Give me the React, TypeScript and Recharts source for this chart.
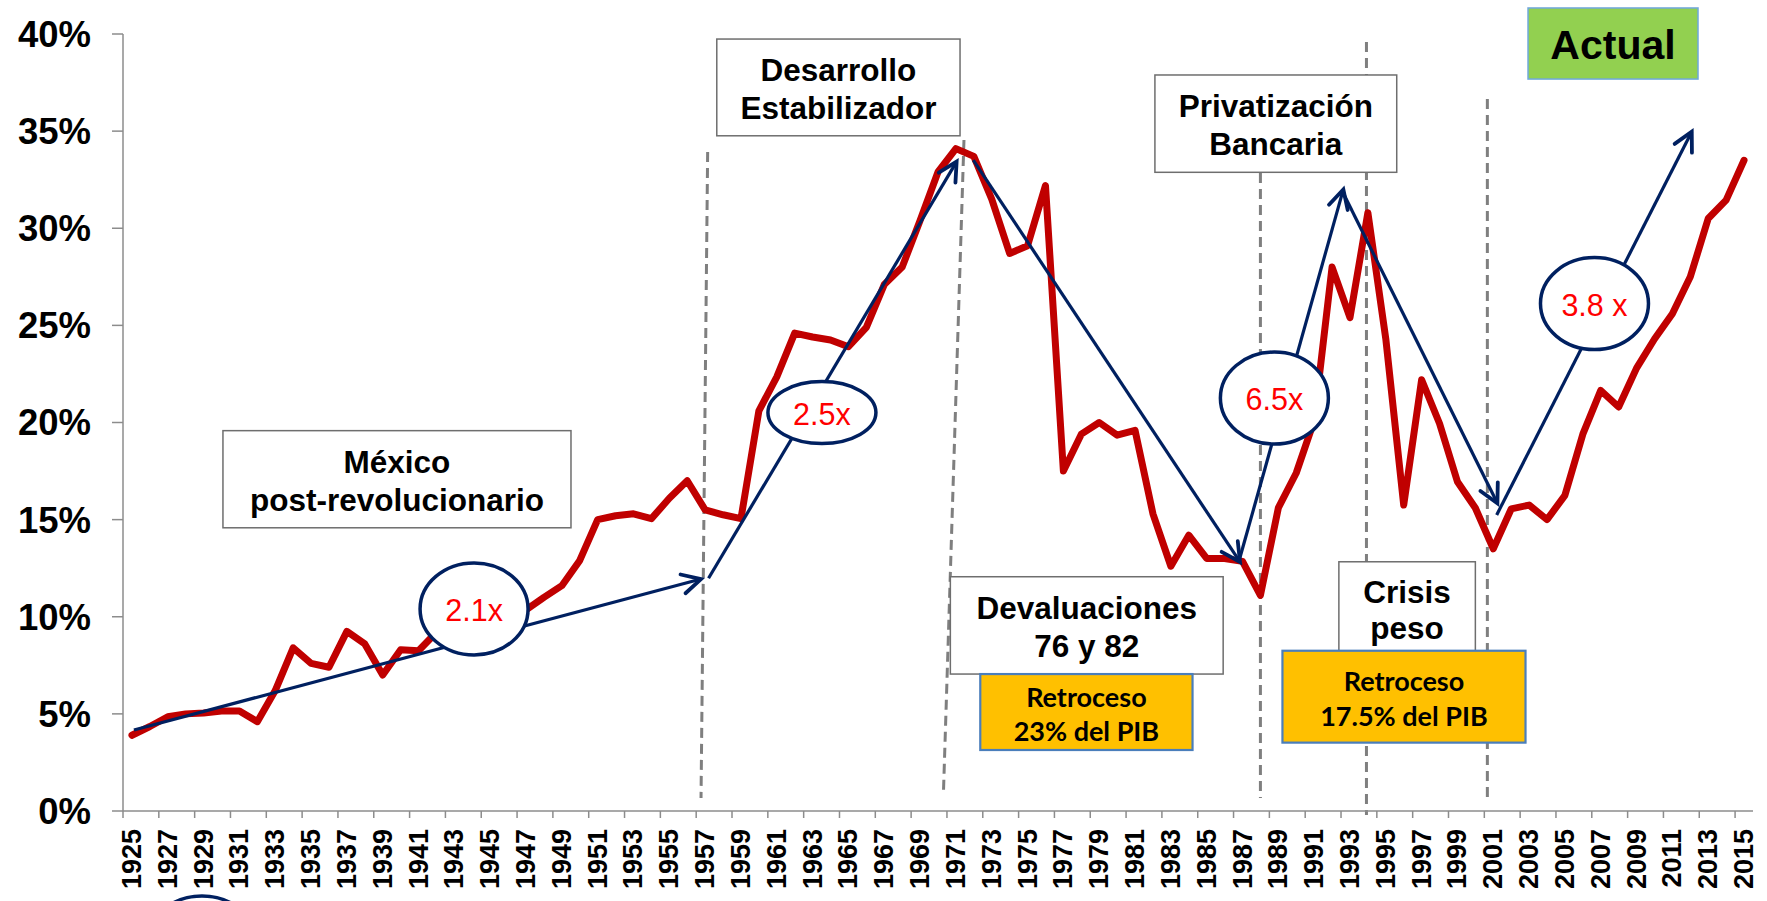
import React from 'react';
import {
  LineChart,
  Line,
  XAxis,
  YAxis,
  ReferenceLine,
  ReferenceArea,
  ReferenceDot,
} from 'recharts';

// ---------- data ----------
const YEARS = [
  1925, 1926, 1927, 1928, 1929, 1930, 1931, 1932, 1933, 1934, 1935, 1936, 1937, 1938, 1939,
  1940, 1941, 1942, 1943, 1944, 1945, 1946, 1947, 1948, 1949, 1950, 1951, 1952, 1953, 1954,
  1955, 1956, 1957, 1958, 1959, 1960, 1961, 1962, 1963, 1964, 1965, 1966, 1967, 1968, 1969,
  1970, 1971, 1972, 1973, 1974, 1975, 1976, 1977, 1978, 1979, 1980, 1981, 1982, 1983, 1984,
  1985, 1986, 1987, 1988, 1989, 1990, 1991, 1992, 1993, 1994, 1995, 1996, 1997, 1998, 1999,
  2000, 2001, 2002, 2003, 2004, 2005, 2006, 2007, 2008, 2009, 2010, 2011, 2012, 2013, 2014,
  2015,
];

// credit as % of GDP
const CREDIT_PCT = [
  3.9, 4.35, 4.85, 5.0, 5.05, 5.15, 5.15, 4.6, 6.2, 8.4, 7.6, 7.4, 9.25, 8.6, 7.0,
  8.3, 8.25, 9.2, 9.5, 9.8, 10.0, 10.2, 10.35, 11.0, 11.6, 12.9, 15.0, 15.2, 15.3, 15.05,
  16.1, 17.0, 15.5, 15.25, 15.05, 20.6, 22.35, 24.6, 24.4, 24.25, 23.9, 24.9, 27.1, 28.0, 30.4,
  32.9, 34.1, 33.7, 31.5, 28.7, 29.1, 32.2, 17.5, 19.4, 20.0, 19.35, 19.6, 15.3, 12.6, 14.2,
  13.0, 13.0, 12.85, 11.1, 15.6, 17.4, 20.1, 28.0, 25.4, 30.8, 24.3, 15.75, 22.2, 19.95, 16.95,
  15.6, 13.5, 15.55, 15.75, 15.0, 16.25, 19.4, 21.65, 20.8, 22.8, 24.3, 25.6, 27.5, 30.5, 31.45,
  33.5,
];

const X_TICKS = [
  1925, 1927, 1929, 1931, 1933, 1935, 1937, 1939, 1941, 1943, 1945, 1947, 1949, 1951, 1953,
  1955, 1957, 1959, 1961, 1963, 1965, 1967, 1969, 1971, 1973, 1975, 1977, 1979, 1981, 1983,
  1985, 1987, 1989, 1991, 1993, 1995, 1997, 1999, 2001, 2003, 2005, 2007, 2009, 2011, 2013,
  2015,
];
const Y_TICKS = [0, 5, 10, 15, 20, 25, 30, 35, 40];

const chartData = YEARS.map((year, i) => ({ year, value: CREDIT_PCT[i] }));

// ---------- annotations (in data coordinates) ----------
const PERIOD_LINES = [
  { x1: 1957.14, y1: 33.93, x2: 1956.77, y2: 0.67 },
  { x1: 1971.45, y1: 34.54, x2: 1970.3, y2: 0.82 },
  { x1: 1988.0, y1: 32.84, x2: 1988.0, y2: 0.67 },
  { x1: 1993.92, y1: 39.59, x2: 1993.92, y2: -0.2 },
  { x1: 2000.67, y1: 36.65, x2: 2000.67, y2: 0.57 },
];

const TREND_ARROWS = [
  { x1: 1925.11, y1: 4.17, x2: 1956.77, y2: 11.94 },
  { x1: 1957.19, y1: 11.98, x2: 1971.04, y2: 33.43 },
  { x1: 1971.97, y1: 33.51, x2: 1986.86, y2: 12.82 },
  { x1: 1986.82, y1: 12.92, x2: 1992.63, y2: 32.0 },
  { x1: 1992.63, y1: 31.8, x2: 2001.23, y2: 15.84 },
  { x1: 2001.19, y1: 15.24, x2: 2012.08, y2: 34.97 },
];

const BUBBLES = [
  { x: 1944.1, y: 10.4, label: '2.1x', rx: 54, ry: 46 },
  { x: 1963.52, y: 20.51, label: '2.5x', rx: 54, ry: 31 },
  { x: 1988.78, y: 21.26, label: '6.5x', rx: 54, ry: 46 },
  { x: 2006.65, y: 26.12, label: '3.8 x', rx: 54, ry: 46 },
  { x: 1928.91, y: -6.74, label: '', rx: 54, ry: 46 },
];

const BOXES = [
  { x1: 1930.08, x2: 1949.51, y1: 14.58, y2: 19.58, lines: ['México', 'post-revolucionario'], kind: 'white', gap: 37.6 },
  { x1: 1957.65, x2: 1971.23, y1: 34.76, y2: 39.74, lines: ['Desarrollo', 'Estabilizador'], kind: 'white', gap: 37.3 },
  { x1: 1982.11, x2: 1995.61, y1: 32.88, y2: 37.89, lines: ['Privatización', 'Bancaria'], kind: 'white', gap: 38.3 },
  { x1: 1970.69, x2: 1985.92, y1: 7.05, y2: 12.06, lines: ['Devaluaciones', '76 y 82'], kind: 'white', gap: 37.7 },
  { x1: 1972.36, x2: 1984.21, y1: 3.14, y2: 7.05, lines: ['Retroceso', '23% del PIB'], kind: 'orange', gap: 34 },
  { x1: 1992.38, x2: 2000.0, y1: 8.0, y2: 12.83, lines: ['Crisis', 'peso'], kind: 'white', gap: 36.6 },
  { x1: 1989.23, x2: 2002.8, y1: 3.52, y2: 8.25, lines: ['Retroceso', '17.5% del PIB'], kind: 'orange', gap: 35 },
  { x1: 2002.94, x2: 2012.43, y1: 37.68, y2: 41.34, lines: ['Actual'], kind: 'green', gap: 0 },
];

// ---------- styles / layout ----------
const WIDTH = 1767;
const HEIGHT = 901;
const MARGIN = { top: 34, right: 14, bottom: 0, left: 0 };
const Y_AXIS_W = 123;
const X_AXIS_H = 90;
const AXIS_Y = HEIGHT - MARGIN.bottom - X_AXIS_H;
const PLOT_W = WIDTH - MARGIN.left - MARGIN.right - Y_AXIS_W;
const HALF_BAND = PLOT_W / YEARS.length / 2;

const RED = '#C00000';
const NAVY = '#002060';
const AXIS_GRAY = '#8c8c8c';
const FONT = '"Liberation Sans", Arial, sans-serif';

const BOX_STYLES: Record<string, any> = {
  white: { fill: '#ffffff', stroke: '#6e6e6e', sw: 1.5, font: FONT, size: 31.5, weight: 'bold', color: '#000' },
  orange: { fill: '#FFC000', stroke: '#4A7EBB', sw: 2.2, font: 'Lato, "Liberation Sans", sans-serif', size: 27, weight: 'bold', color: '#000' },
  green: { fill: '#92D050', stroke: '#6FA8DC', sw: 1.5, font: FONT, size: 41, weight: 'bold', color: '#000' },
};

const YearTick = (props: any) => {
  const { x, payload } = props;
  const ty = AXIS_Y + 18;
  return (
    <g>
      <line x1={x - HALF_BAND} x2={x - HALF_BAND} y1={AXIS_Y} y2={AXIS_Y + 7} stroke={AXIS_GRAY} strokeWidth={1.5} />
      <text
        x={x}
        y={ty}
        transform={`rotate(-90 ${x} ${ty})`}
        textAnchor="end"
        dominantBaseline="central"
        fontFamily={FONT}
        fontWeight="bold"
        fontSize={27}
        fill="#000"
      >
        {payload.value}
      </text>
    </g>
  );
};

const ArrowShape = (p: any) => {
  const { x1, y1, x2, y2 } = p;
  if ([x1, y1, x2, y2].some((v) => typeof v !== 'number' || isNaN(v))) return <g />;
  const ang = Math.atan2(y2 - y1, x2 - x1);
  const L = 21;
  const a = 0.48;
  const w1x = x2 - L * Math.cos(ang - a);
  const w1y = y2 - L * Math.sin(ang - a);
  const w2x = x2 - L * Math.cos(ang + a);
  const w2y = y2 - L * Math.sin(ang + a);
  return (
    <g>
      <line x1={x1} y1={y1} x2={x2} y2={y2} stroke={NAVY} strokeWidth={3.2} />
      <polyline
        points={`${w1x},${w1y} ${x2},${y2} ${w2x},${w2y}`}
        fill="none"
        stroke={NAVY}
        strokeWidth={3.8}
        strokeLinecap="round"
        strokeLinejoin="miter"
      />
    </g>
  );
};

const DashShape = (p: any) => {
  const { x1, y1, x2, y2 } = p;
  return <line x1={x1} y1={y1} x2={x2} y2={y2} stroke="#7f7f7f" strokeWidth={3} strokeDasharray="10 6" />;
};

const makeBubble = (b: any) => (p: any) => {
  const { cx, cy } = p;
  return (
    <g>
      <ellipse cx={cx} cy={cy} rx={b.rx} ry={b.ry} fill="#ffffff" stroke={NAVY} strokeWidth={3.5} />
      {b.label ? (
        <text
          x={cx}
          y={cy + 1}
          textAnchor="middle"
          dominantBaseline="central"
          fontFamily={FONT}
          fontSize={30.5}
          fill="#FF0000"
        >
          {b.label}
        </text>
      ) : null}
    </g>
  );
};

const makeBox = (b: any) => (p: any) => {
  const { x, y, width, height } = p;
  const s = BOX_STYLES[b.kind];
  const cx = x + width / 2;
  const cy = y + height / 2 + 1.5;
  const n = b.lines.length;
  return (
    <g>
      <rect x={x} y={y} width={width} height={height} fill={s.fill} stroke={s.stroke} strokeWidth={s.sw} />
      {b.lines.map((t: string, i: number) => (
        <text
          key={i}
          x={cx}
          y={cy + (i - (n - 1) / 2) * b.gap}
          textAnchor="middle"
          dominantBaseline="central"
          fontFamily={s.font}
          fontWeight={s.weight}
          fontSize={s.size}
          fill={s.color}
        >
          {t}
        </text>
      ))}
    </g>
  );
};

export default function App() {
  return (
    <div style={{ position: 'absolute', left: 0, top: 0, background: '#fff' }}>
      <LineChart width={WIDTH} height={HEIGHT} data={chartData} margin={MARGIN}>
        <XAxis
          dataKey="year"
          type="number"
          domain={[1924.5, 2015.5]}
          ticks={X_TICKS}
          interval={0}
          allowDataOverflow
          height={X_AXIS_H}
          tickLine={false}
          axisLine={{ stroke: AXIS_GRAY, strokeWidth: 1.5 }}
          tick={<YearTick />}
        />
        <YAxis
          type="number"
          domain={[0, 40]}
          ticks={Y_TICKS}
          interval={0}
          allowDataOverflow
          width={Y_AXIS_W}
          tickFormatter={(v: number) => `${v}%`}
          tickSize={11}
          tickMargin={21}
          axisLine={{ stroke: AXIS_GRAY, strokeWidth: 1.5 }}
          tickLine={{ stroke: AXIS_GRAY, strokeWidth: 1.5 }}
          tick={{ fontFamily: FONT, fontWeight: 'bold', fontSize: 36.5, fill: '#000' }}
        />
        {PERIOD_LINES.map((l, i) => (
          <ReferenceLine
            key={`pl${i}`}
            segment={[{ x: l.x1, y: l.y1 }, { x: l.x2, y: l.y2 }]}
            ifOverflow="visible"
            shape={DashShape}
            zIndex={100}
          />
        ))}
        <Line
          type="linear"
          dataKey="value"
          stroke={RED}
          strokeWidth={7}
          strokeLinejoin="round"
          strokeLinecap="round"
          dot={false}
          activeDot={false}
          isAnimationActive={false}
          zIndex={200}
        />
        {TREND_ARROWS.map((a, i) => (
          <ReferenceLine
            key={`ar${i}`}
            segment={[{ x: a.x1, y: a.y1 }, { x: a.x2, y: a.y2 }]}
            ifOverflow="visible"
            shape={ArrowShape}
            zIndex={300}
          />
        ))}
        {BUBBLES.map((b, i) => (
          <ReferenceDot key={`bu${i}`} x={b.x} y={b.y} ifOverflow="visible" shape={makeBubble(b)} zIndex={400} />
        ))}
        {BOXES.map((b, i) => (
          <ReferenceArea
            key={`bx${i}`}
            x1={b.x1}
            x2={b.x2}
            y1={b.y1}
            y2={b.y2}
            ifOverflow="visible"
            shape={makeBox(b)}
            zIndex={500}
          />
        ))}
      </LineChart>
    </div>
  );
}
